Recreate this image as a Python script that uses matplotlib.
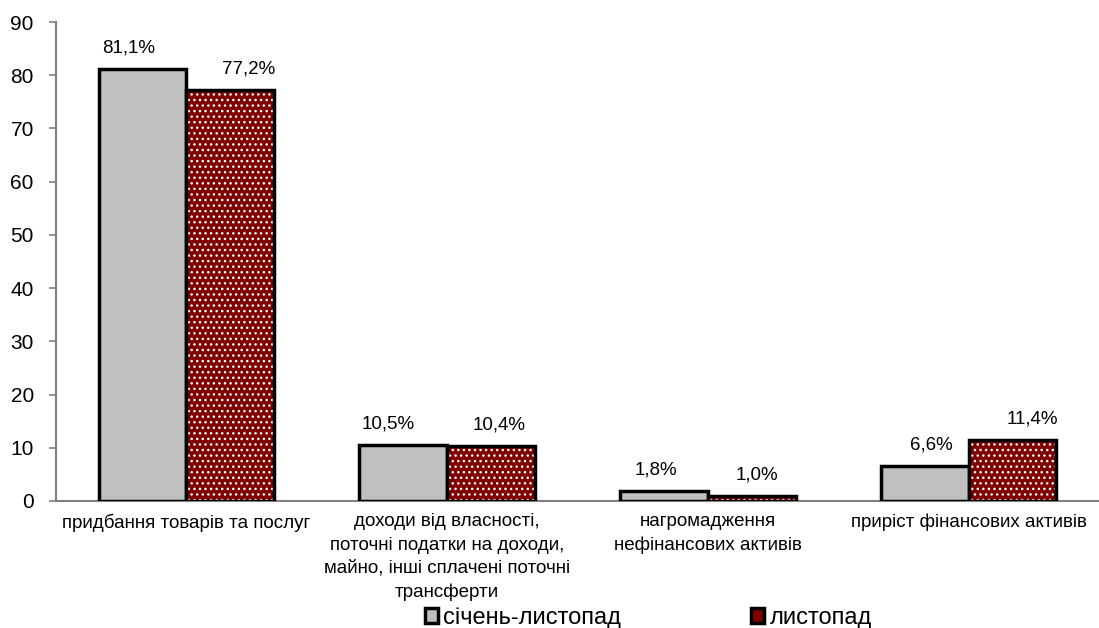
import numpy as np
import matplotlib.pyplot as plt
from matplotlib.patches import Patch

plt.rcParams['font.family'] = ['Liberation Sans', 'DejaVu Sans']
plt.rcParams['hatch.linewidth'] = 1.0

categories = [
    "придбання товарів та послуг",
    "доходи від власності,\nпоточні податки на доходи,\nмайно, інші сплачені поточні\nтрансферти",
    "нагромадження\nнефінансових активів",
    "приріст фінансових активів",
]
jan_nov = [81.1, 10.5, 1.8, 6.6]
nov = [77.2, 10.4, 1.0, 11.4]
series_names = ["січень-листопад", "листопад"]

# horizontal nudges of the value labels, in points
jan_nov_dx = [-10, -11, -6, 5]
nov_dx = [13, 6, 4, 14]

gray = "#c0c0c0"
red = "#800000"

fig = plt.figure(figsize=(10.99, 6.28), dpi=100)
ax = fig.add_axes([56 / 1099, 127 / 628, 1043 / 1099, 479 / 628])

x = np.arange(len(categories))
w = 0.337

ax.bar(x - w / 2, jan_nov, w, color=gray, edgecolor="black", linewidth=2.5, zorder=3)
# dotted fill, then a black outline on top
ax.bar(x + w / 2, nov, w, color=red, edgecolor="white", hatch="...", linewidth=0, zorder=3)
ax.bar(x + w / 2, nov, w, fill=False, edgecolor="black", linewidth=2.5, zorder=4)


def pct(v):
    return f"{v:.1f}%".replace(".", ",")


for xi, v, dx in zip(x - w / 2, jan_nov, jan_nov_dx):
    ax.annotate(pct(v), (xi, v), xytext=(dx, 9), textcoords="offset points",
                ha="center", va="bottom", fontsize=13.5)
for xi, v, dx in zip(x + w / 2, nov, nov_dx):
    ax.annotate(pct(v), (xi, v), xytext=(dx, 9), textcoords="offset points",
                ha="center", va="bottom", fontsize=13.5)

ax.set_xlim(-0.5, 3.5)
ax.set_ylim(0, 90)
ax.set_yticks(range(0, 91, 10))
ax.tick_params(axis="y", labelsize=15, color="#808080", length=5, width=1.2,
               direction="out", pad=11)
ax.set_xticks(x)
ax.set_xticklabels(categories, fontsize=13.5, linespacing=1.47)
ax.tick_params(axis="x", length=0, pad=9)
for s in ["top", "right"]:
    ax.spines[s].set_visible(False)
for s in ["left", "bottom"]:
    ax.spines[s].set_color("#808080")
    ax.spines[s].set_linewidth(1.5)

handles = [
    Patch(facecolor=gray, edgecolor="black", linewidth=2.5),
    Patch(facecolor=red, edgecolor="black", linewidth=2.5),
]
fig.legend(handles, series_names, loc="center", bbox_to_anchor=(0.590, 0.016),
           ncol=2, frameon=False, fontsize=17, handlelength=0.55, handleheight=0.55,
           handletextpad=0.25, columnspacing=5.5, borderpad=0)

fig.savefig("out.png", dpi=100)
